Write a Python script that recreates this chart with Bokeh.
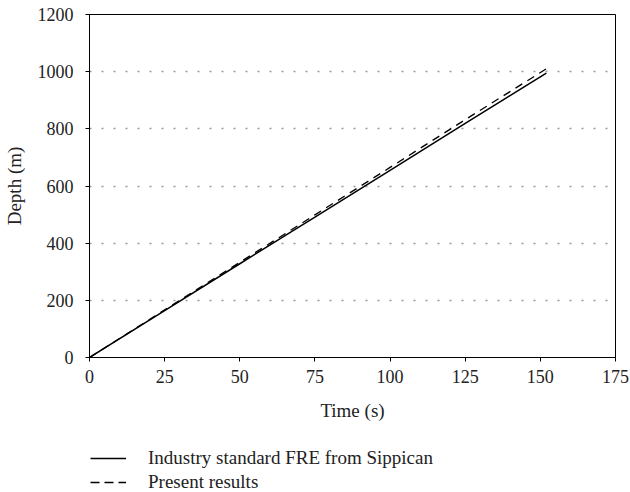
from bokeh.plotting import figure
from bokeh.models import Legend, LegendItem, Range1d, FixedTicker
from bokeh.layouts import column
from bokeh.embed import file_html
from bokeh.resources import INLINE

# Data
time_fre = [0, 25, 50, 75, 100, 125, 152]
depth_fre = [0, 164, 328, 491, 655, 819, 995]
time_present = [0, 25, 50, 75, 100, 125, 152]
depth_present = [0, 167, 333, 499, 665, 832, 1010]
x_ticks = [0, 25, 50, 75, 100, 125, 150, 175]
y_ticks = [0, 200, 400, 600, 800, 1000, 1200]
labels = ["Industry standard FRE from Sippican", "Present results"]

FONT = "Liberation Serif"
FS_TICK = "18px"
FS_LAB = "19px"

p = figure(output_backend="svg", toolbar_location=None,
           x_range=Range1d(0, 175), y_range=Range1d(0, 1200),
           min_border_left=14, min_border_right=16, min_border_top=14, min_border_bottom=0)
p.frame_width = 526
p.frame_height = 343
p.outline_line_color = "black"
p.outline_line_width = 1
p.background_fill_color = "white"
p.border_fill_color = "white"

p.xgrid.visible = False
p.ygrid.ticker = FixedTicker(ticks=y_ticks)
p.ygrid.grid_line_color = "#999999"
p.ygrid.grid_line_dash = "2 10"
p.ygrid.grid_line_width = 1.5

for ax, ticks, lab in ((p.xaxis[0], x_ticks, "Time (s)"), (p.yaxis[0], y_ticks, "Depth (m)")):
    ax.ticker = FixedTicker(ticks=ticks)
    ax.axis_label = lab
    ax.axis_label_text_font = FONT
    ax.axis_label_text_font_size = FS_LAB
    ax.axis_label_text_font_style = "normal"
    ax.axis_label_text_color = "#222222"
    ax.major_label_text_font = FONT
    ax.major_label_text_font_size = FS_TICK
    ax.major_label_text_color = "#222222"
    ax.axis_line_color = "black"
    ax.major_tick_line_color = "black"
    ax.major_tick_in = 0
    ax.major_tick_out = 4
    ax.minor_tick_line_color = None

p.xaxis.major_label_standoff = 8
p.xaxis.axis_label_standoff = 14
p.yaxis.major_label_standoff = 12
p.yaxis.axis_label_standoff = 10

p.line(time_fre, depth_fre, line_color="black", line_width=1.5)
p.line(time_present, depth_present, line_color="black", line_width=1.3, line_dash="8 6")

# Legend figure below the chart (its lines lie outside its range, so only the legend shows)
lg = figure(width=630, height=71, output_backend="svg", toolbar_location=None,
            x_range=Range1d(-20, -10), y_range=Range1d(-20, -10),
            x_axis_type=None, y_axis_type=None,
            min_border_left=0, min_border_right=0, min_border_top=0, min_border_bottom=0)
lg.outline_line_color = None
lg.xgrid.visible = False
lg.ygrid.visible = False
l1 = lg.line(time_fre, depth_fre, line_color="black", line_width=1.5)
l2 = lg.line(time_present, depth_present, line_color="black", line_width=1.5, line_dash="9 5")

legend = Legend(items=[LegendItem(label=labels[0], renderers=[l1]),
                       LegendItem(label=labels[1], renderers=[l2])],
                location=(1, 0), orientation="vertical",
                label_text_font=FONT, label_text_font_size=FS_LAB, label_text_color="#222222",
                glyph_width=36, glyph_height=24, label_height=24, label_standoff=22,
                spacing=0, padding=0, margin=0, border_line_color=None,
                background_fill_alpha=0)
lg.add_layout(legend, "center")

layout = column(p, lg, spacing=0)
open("out.html", "w").write(file_html(layout, INLINE))
